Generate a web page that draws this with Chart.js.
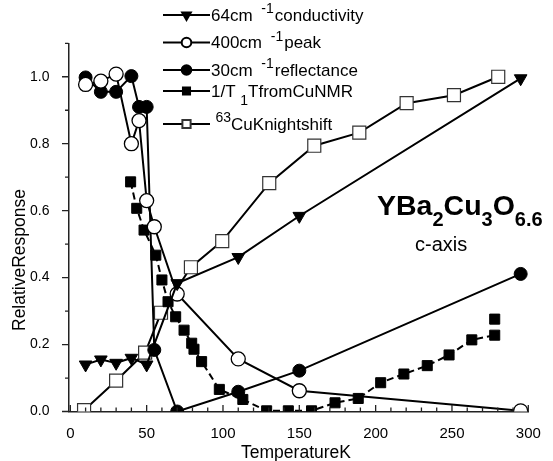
<!DOCTYPE html>
<html>
<head>
<meta charset="utf-8">
<script src="https://cdn.jsdelivr.net/npm/chart.js@4.4.0/dist/chart.umd.min.js"></script>
<style>
  html, body { margin: 0; padding: 0; background: #fff; }
  canvas { display: block; }
</style>
</head>
<body>
<canvas id="chart" width="553" height="461"></canvas>
<script>
// Temperature (K) and relative response
const cond64T = [10, 20, 30, 40, 50, 70, 110, 150, 295];
const cond64V = [0.14, 0.155, 0.145, 0.16, 0.14, 0.383, 0.461, 0.584, 0.995];

const peak400T = [10, 20, 30, 40, 45, 50, 55, 70, 110, 150, 295];
const peak400V = [0.977, 0.987, 1.008, 0.80, 0.869, 0.63, 0.552, 0.351, 0.157, 0.062, 0.002];

const refl30T = [10, 20, 30, 40, 45, 50, 55, 70, 110, 150, 295];
const refl30V = [0.998, 0.955, 0.955, 1.002, 0.91, 0.91, 0.184, 0.0, 0.059, 0.122, 0.411];

const nmrT = [39.5, 43.5, 48.3, 56, 60, 64, 69, 74.5, 79.5, 81, 86, 97.6, 113, 128.6, 142.8, 158,
              173.4, 188.6, 203.3, 218.5, 233.8, 248.1, 263, 278, 278, 278];
const nmrV = [0.686, 0.607, 0.542, 0.467, 0.393, 0.328, 0.283, 0.243, 0.204, 0.186, 0.149, 0.066, 0.036, 0.002, 0.002, 0.002,
              0.026, 0.039, 0.086, 0.112, 0.137, 0.169, 0.214, 0.228, null, 0.276];

const knightT = [9, 30, 49, 59.4, 79, 99.5, 130.3, 159.8, 189.3, 220.3, 251.3, 280.3];
const knightV = [0.004, 0.092, 0.176, 0.295, 0.431, 0.509, 0.682, 0.794, 0.833, 0.921, 0.945, 1.0];

const xTicks = [0, 50, 100, 150, 200, 250, 300];
const yTicks = [0, 0.2, 0.4, 0.6, 0.8, 1.0];

const family = '"Liberation Sans", Arial, sans-serif';

// legend text pieces: [text, kind, gap before] kind 0 = normal, 1 = superscript, -1 = subscript
const legendLabels = [
    [['64cm ', 0, 0], ['-1', 1, 4], ['conductivity', 0, 1]],
    [['400cm ', 0, 0], ['-1', 1, 4], ['peak', 0, 1]],
    [['30cm ', 0, 0], ['-1', 1, 4], ['reflectance', 0, 1]],
    [['1/T ', 0, 0], ['1', -1, 0], ['TfromCuNMR', 0, 0]],
    [['63', 1, 4.5], ['CuKnightshift', 0, 0]],
];
const legendRowsY = [15, 42.5, 70, 91, 124];

function pairs(xs, ys) {
    return xs.map((x, i) => ({ x: x, y: ys[i] }));
}

function series(xs, ys, style) {
    return Object.assign({
        data: pairs(xs, ys),
        borderColor: '#000',
        borderWidth: 2,
        pointBorderColor: '#000',
        pointBackgroundColor: '#000',
        pointBorderWidth: 1,
        fill: false,
        tension: 0,
        clip: 0,
    }, style);
}

const datasets = [
    series(cond64T, cond64V, { pointStyle: 'triangle', rotation: 180, pointRadius: 7.3 }),
    series(peak400T, peak400V, { pointStyle: 'circle', pointRadius: 7, pointBackgroundColor: '#fff', pointBorderWidth: 1.3 }),
    series(refl30T, refl30V, { pointStyle: 'circle', pointRadius: 6.5 }),
    series(nmrT, nmrV, { pointStyle: 'rect', pointRadius: 7.1, borderDash: [7, 4] }),
    series(knightT, knightV, { pointStyle: 'rect', pointRadius: 9.2, pointBackgroundColor: '#fff', pointBorderColor: '#333', pointBorderWidth: 1.2 }),
];

// small marker sizes used in the legend
const legendRadius = [5, 4.8, 4.8, 5, 5.8];

function drawRich(ctx, x, y, parts, size) {
    parts.forEach(([t, k, gap]) => {
        const fs = k ? 14 : size;
        ctx.font = fs + 'px ' + family;
        let dy = 0;
        if (k === 1) dy = -7.5;
        if (k === -1) dy = 8;
        x += gap;
        ctx.fillText(t, x, y + dy);
        x += ctx.measureText(t).width;
    });
}

const extras = {
    id: 'extras',
    afterDraw(chart) {
        const ctx = chart.ctx;
        const xs = chart.scales.x, ys = chart.scales.y;
        const area = chart.chartArea;
        ctx.save();

        // tick marks: y outward, x inward
        ctx.strokeStyle = '#222';
        ctx.lineWidth = 1.3;
        ctx.beginPath();
        for (let i = 0; i <= 11; i++) {
            const py = ys.getPixelForValue(i / 10);
            const len = i % 2 === 0 ? 6.5 : 3.5;
            ctx.moveTo(area.left, py);
            ctx.lineTo(area.left - len, py);
        }
        for (let v = 0; v <= 300; v += 10) {
            const px = xs.getPixelForValue(v);
            const len = v % 50 === 0 ? 6.5 : 4;
            ctx.moveTo(px, area.bottom);
            ctx.lineTo(px, area.bottom - len);
        }
        ctx.stroke();

        // legend
        ctx.fillStyle = '#000';
        ctx.textBaseline = 'alphabetic';
        ctx.textAlign = 'left';
        legendRowsY.forEach((ry, i) => {
            const ds = chart.data.datasets[i];
            ctx.strokeStyle = '#000';
            ctx.lineWidth = 2;
            ctx.setLineDash([]);
            ctx.beginPath();
            ctx.moveTo(163, ry);
            ctx.lineTo(210, ry);
            ctx.stroke();
            ctx.fillStyle = ds.pointBackgroundColor;
            ctx.strokeStyle = ds.pointBorderColor;
            Chart.helpers.drawPoint(ctx, {
                pointStyle: ds.pointStyle,
                rotation: ds.rotation || 0,
                radius: legendRadius[i],
                borderWidth: ds.pointBorderWidth,
            }, 186.5, ry);
            ctx.fillStyle = '#000';
            drawRich(ctx, 211, ry + 5.8, legendLabels[i], 17);
        });

        // compound label
        let x = 377;
        const base = 215;
        [['Y', 0], ['Ba', 0], ['2', -1], ['Cu', 0], ['3', -1], ['O', 0], ['6.6', -1]].forEach(([t, k]) => {
            ctx.font = 'bold ' + (k ? 20 : 28.5) + 'px ' + family;
            ctx.fillText(t, x, base + (k ? 11 : 0));
            x += ctx.measureText(t).width;
        });
        ctx.font = '20px ' + family;
        ctx.fillText('c-axis', 415, 251);

        // axis titles
        ctx.font = '17.5px ' + family;
        ctx.textAlign = 'center';
        ctx.textBaseline = 'middle';
        ctx.fillText('TemperatureK', 296, 453);
        ctx.translate(20, 260);
        ctx.rotate(-Math.PI / 2);
        ctx.fillText('RelativeResponse', 0, 0);
        ctx.restore();
    }
};

new Chart(document.getElementById('chart').getContext('2d'), {
    type: 'line',
    data: { datasets: datasets },
    options: {
        responsive: false,
        animation: false,
        layout: { padding: { top: 43.3, right: 24.7, left: 0, bottom: 0 } },
        plugins: { legend: { display: false }, tooltip: { enabled: false } },
        scales: {
            x: {
                type: 'linear',
                min: -1.2,
                max: 300,
                afterBuildTicks: (s) => { s.ticks = xTicks.map(v => ({ value: v })); },
                afterFit: (s) => { s.height = 49.5; },
                grid: { display: false },
                border: { display: true, color: '#222', width: 1.5 },
                ticks: { color: '#000', font: { family: family, size: 15 }, padding: 5, maxRotation: 0, autoSkip: false },
            },
            y: {
                min: 0,
                max: 1.1,
                afterBuildTicks: (s) => { s.ticks = yTicks.map(v => ({ value: v })); },
                afterFit: (s) => { s.width = 68.5; },
                grid: { display: false },
                border: { display: true, color: '#222', width: 1.5 },
                ticks: { color: '#000', font: { family: family, size: 14 }, padding: 11, callback: (v) => v.toFixed(1) },
            },
        },
    },
    plugins: [extras],
});
</script>
</body>
</html>
